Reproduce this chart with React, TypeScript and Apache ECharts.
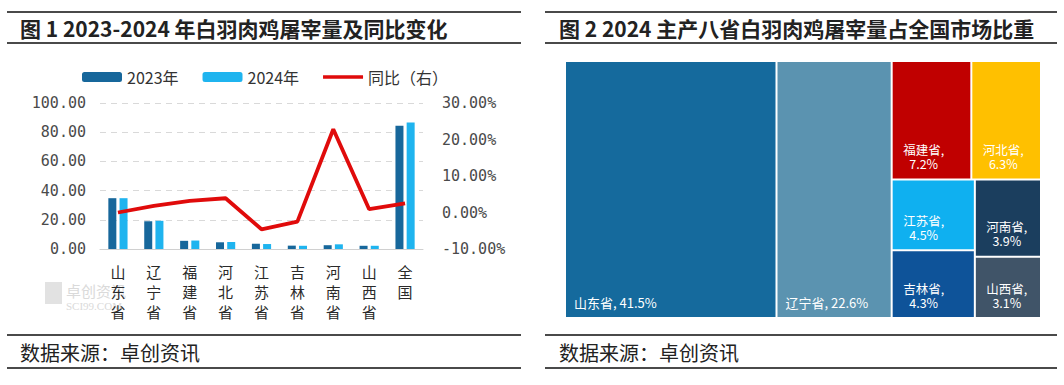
import React, { useEffect, useRef } from "react";
import * as echarts from "echarts";

const categories = ["山东省", "辽宁省", "福建省", "河北省", "江苏省", "吉林省", "河南省", "山西省", "全国"];
const volume2023 = [34.8, 19.0, 5.6, 4.6, 3.6, 2.3, 2.6, 2.2, 84.5];
const volume2024 = [34.8, 19.3, 5.8, 4.8, 3.4, 2.2, 3.2, 2.2, 86.6];
const yoyPct = [0.0, 1.8, 3.2, 3.9, -4.6, -2.5, 22.8, 0.9, 2.5];
const seriesNames = ["2023年", "2024年", "同比（右）"];

const shareNames = ["山东省", "辽宁省", "福建省", "河北省", "江苏省", "吉林省", "河南省", "山西省"];
const shareValues = [41.5, 22.6, 7.2, 6.3, 4.5, 4.3, 3.9, 3.1];
const shareColors = ["#156A9D", "#5B93B0", "#C00000", "#FFC000", "#0FB0F0", "#0E5399", "#1B3E5E", "#405468"];

const title1 = "图 1 2023-2024 年白羽肉鸡屠宰量及同比变化";
const title2 = "图 2 2024 主产八省白羽肉鸡屠宰量占全国市场比重";
const sourceText = "数据来源：卓创资讯";

const CJK = "'Noto Sans CJK SC', 'Noto Sans', sans-serif";
const MONO = "'DejaVu Sans Mono', monospace";
const LINE_ICON = "path://M0,0h40v0.01h-40z M0,3.2h40v3.6h-40z M0,9.99h40v0.01h-40z";

export default function App() {
  const ref = useRef<HTMLDivElement>(null);
  useEffect(() => {
    if (!ref.current) return;
    const chart = echarts.init(ref.current, undefined, { renderer: "svg" });
    const rule = (x1: number, x2: number, y: number) => ({
      type: "line",
      shape: { x1, y1: y, x2, y2: y },
      style: { stroke: "#4a4a4a", lineWidth: 2.2 },
      silent: true,
    });
    const txt = (x: number, y: number, text: string, size: number, weight: string) => ({
      type: "text",
      x,
      y,
      style: { text, fontSize: size, fontWeight: weight, fontFamily: CJK, fill: "#222", verticalAlign: "middle" },
      silent: true,
    });
    chart.setOption({
      animation: false,
      backgroundColor: "#fff",
      legend: {
        left: 82,
        top: 69,
        padding: 0,
        itemWidth: 40,
        itemHeight: 10,
        itemGap: 24,
        textStyle: { fontSize: 16, fontFamily: CJK, color: "#333" },
        data: [
          { name: seriesNames[0] },
          { name: seriesNames[1] },
          { name: seriesNames[2], icon: LINE_ICON },
        ],
      },
      grid: { left: 100, top: 103, width: 323, height: 146, containLabel: false },
      xAxis: {
        type: "category",
        data: categories,
        axisTick: { show: false },
        axisLine: { lineStyle: { color: "#d0d0d0" } },
        axisLabel: {
          interval: 0,
          margin: 12,
          fontSize: 15,
          lineHeight: 20,
          fontFamily: CJK,
          color: "#2a2a2a",
          verticalAlign: "top",
          formatter: (v: string) => v.split("").join("\n"),
        },
      },
      yAxis: [
        {
          type: "value",
          min: 0,
          max: 100,
          interval: 20,
          axisLine: { show: false },
          axisTick: { show: false },
          axisLabel: { margin: 14, fontSize: 15, fontFamily: MONO, color: "#4a4a4a", formatter: (v: number) => v.toFixed(2) },
          splitLine: { lineStyle: { color: "#d9d9d9", type: [6, 5] } },
        },
        {
          type: "value",
          min: -10,
          max: 30,
          interval: 10,
          axisLine: { show: false },
          axisTick: { show: false },
          splitLine: { show: false },
          axisLabel: { margin: 19, fontSize: 15, fontFamily: MONO, color: "#4a4a4a", formatter: (v: number) => v.toFixed(2) + "%" },
        },
      ],
      series: [
        {
          name: seriesNames[0],
          type: "bar",
          data: volume2023,
          barWidth: 8,
          barGap: "40%",
          itemStyle: { color: "#17679B" },
        },
        {
          name: seriesNames[1],
          type: "bar",
          data: volume2024,
          barWidth: 8,
          itemStyle: { color: "#1FB4EF" },
        },
        {
          name: seriesNames[2],
          type: "line",
          yAxisIndex: 1,
          data: yoyPct,
          symbol: "none",
          lineStyle: { color: "#E00B0B", width: 3.8 },
          itemStyle: { color: "#E00B0B" },
        },
        {
          type: "treemap",
          left: 566,
          top: 62,
          width: 474,
          height: 255,
          squareRatio: 1,
          roam: false,
          nodeClick: false,
          sort: "desc",
          breadcrumb: { show: false },
          upperLabel: { show: false },
          itemStyle: { borderWidth: 0, gapWidth: 2, borderColor: "#fff" },
          levels: [{ itemStyle: { borderWidth: 0, gapWidth: 2 } }, { itemStyle: { borderWidth: 0 } }],
          label: {
            show: true,
            position: "insideBottomLeft",
            distance: 8,
            padding: 0,
            align: "center",
            offset: [23, 0],
            color: "#fff",
            fontSize: 12.5,
            lineHeight: 14,
            fontFamily: CJK,
            formatter: "{b},\n{c}%",
          },
          data: shareNames.map((n, i) => ({
            name: n,
            value: shareValues[i],
            itemStyle: { color: shareColors[i] },
            label: i < 2 ? { formatter: "{b}, {c}%", align: "left", offset: [0, 0], fontSize: 13 } : undefined,
          })),
        },
      ],
      graphic: [
        rule(7, 521, 12),
        rule(7, 521, 43),
        rule(545, 1057, 12),
        rule(545, 1057, 43),
        rule(7, 521, 335),
        rule(7, 521, 368),
        rule(545, 1057, 335),
        rule(545, 1057, 368),
        txt(20, 28, title1, 21, "bold"),
        txt(559, 28, title2, 21, "bold"),
        txt(20, 352, sourceText, 20, "normal"),
        txt(559, 352, sourceText, 20, "normal"),
        {
          type: "group",
          silent: true,
          z: -1,
          children: [
            { type: "rect", shape: { x: 45, y: 282, width: 17, height: 22 }, style: { fill: "#e2e2e2" } },
            { type: "text", x: 66, y: 283, style: { text: "卓创资讯", fontSize: 15, fontFamily: CJK, fill: "#dadada" } },
            { type: "text", x: 66, y: 300, style: { text: "SCI99.COM", fontSize: 11, fontFamily: "'Liberation Serif', serif", fill: "#dadada" } },
          ],
        },
      ],
    });
    return () => chart.dispose();
  }, []);
  return <div ref={ref} style={{ position: "fixed", left: 0, top: 0, width: 1064, height: 385 }} />;
}
